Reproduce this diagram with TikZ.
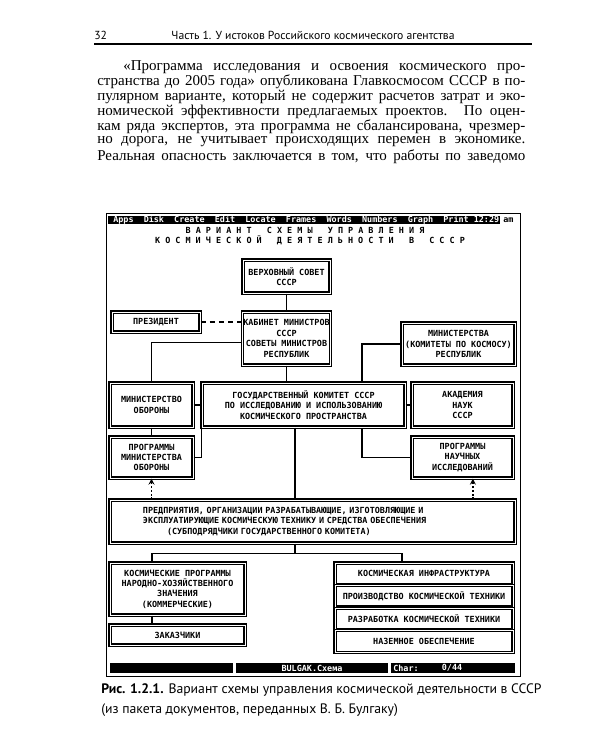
\documentclass[tikz,border=0pt]{standalone}
\usepackage{fontspec}
\setmainfont{Liberation Serif}
\newfontfamily\headfont{PT Sans}
\newfontfamily\dosfont{DejaVu Sans Mono}
\usetikzlibrary{positioning}
\begin{document}
\begin{tikzpicture}[
    x=0.25mm, y=-0.25mm,
    box/.style={draw, double, double distance=0.6pt, line width=0.85pt, fill=white,
        inner sep=0.5pt, align=center, font=\dosfont\bfseries\fontsize{6}{7.4}\selectfont},
    link/.style={line width=1pt},
    dashlink/.style={line width=0.9pt, dash pattern=on 3.5pt off 3pt},
    feed/.style={line width=0.9pt, dash pattern=on 1.5pt off 1.2pt, -stealth},
    dos/.style={inner sep=0pt, font=\dosfont\bfseries\fontsize{6}{7.4}\selectfont},
    bodyline/.style={anchor=west, inner sep=0pt, font=\fontsize{10.7}{12}\selectfont},
    sans/.style={inner sep=0pt, font=\headfont\fontsize{8.3}{9.6}\selectfont},
    caption/.style={anchor=west, inner sep=0pt, font=\headfont\fontsize{9.75}{11}\selectfont}
]
    \useasboundingbox (0,0) rectangle (600,750);

    \node[sans, anchor=west] (pagenum) at (94,35) {32};
    \node[sans] (runhead) at (313,35) {Часть 1. У истоков Российского космического агентства};
    \draw[line width=1pt] (94,44) -- (532,44);

    \node[bodyline] (body1) at (123,67) {\makebox[100.5mm][s]{«Программа исследования и освоения космического про-}};
    \node[bodyline] (body2) at (97,82) {\makebox[107mm][s]{странства до 2005 года» опубликована Главкосмосом СССР в по-}};
    \node[bodyline] (body3) at (97,97) {\makebox[107mm][s]{пулярном варианте, который не содержит расчетов затрат и эко-}};
    \node[bodyline] (body4) at (97,112) {\makebox[107mm][s]{номической эффективности предлагаемых проектов. По оцен-}};
    \node[bodyline] (body5) at (97,127) {\makebox[107mm][s]{кам ряда экспертов, эта программа не сбалансирована, чрезмер-}};
    \node[bodyline] (body6) at (97,142) {\makebox[107mm][s]{но дорога, не учитывает происходящих перемен в экономике.}};
    \node[bodyline] (body7) at (97,157) {\makebox[107mm][s]{Реальная опасность заключается в том, что работы по заведомо}};

    \draw[line width=0.6pt] (106,213) rectangle (520,676);
    \fill (108,216) rectangle (500,224);
    \node[dos, anchor=west, text=white] (menu) at (113,220) {Apps~~Disk~~Create~~Edit~~Locate~~Frames~~Words~~Numbers~~Graph~~Print~12:29};
    \node[dos, anchor=west] (clock) at (503,220) {am};
    \node[dos] (title1) at (305,230) {В~А~Р~И~А~Н~Т~~~С~Х~Е~М~Ы~~~У~П~Р~А~В~Л~Е~Н~И~Я};
    \node[dos] (title2) at (310,240) {К~О~С~М~И~Ч~Е~С~К~О~Й~~~Д~Е~Я~Т~Е~Л~Ь~Н~О~С~Т~И~~~В~~~С~С~С~Р};

    \node[box, minimum width=21.75mm, minimum height=8.25mm] (soviet) at (286.5,276.5) {ВЕРХОВНЫЙ СОВЕТ\\СССР};
    \node[box, minimum width=21.75mm, minimum height=13.25mm] (cabinet) at (286.5,338.5) {КАБИНЕТ МИНИСТРОВ\\СССР\\СОВЕТЫ МИНИСТРОВ\\РЕСПУБЛИК};
    \node[box, minimum width=22mm, minimum height=5mm] (president) at (156,322) {ПРЕЗИДЕНТ};
    \node[box, minimum width=28.25mm, minimum height=10.5mm] (ministries) at (458.5,344) {МИНИСТЕРСТВА\\(КОМИТЕТЫ ПО КОСМОСУ)\\РЕСПУБЛИК};
    \node[box, minimum width=20.75mm, minimum height=11mm] (defence) at (151.5,405) {МИНИСТЕРСТВО\\ОБОРОНЫ};
    \node[box, minimum width=50.75mm, minimum height=11mm] (goskom) at (303.5,405) {ГОСУДАРСТВЕННЫЙ КОМИТЕТ СССР\\ПО ИССЛЕДОВАНИЮ И ИСПОЛЬЗОВАНИЮ\\КОСМИЧЕСКОГО ПРОСТРАНСТВА};
    \node[box, minimum width=25.25mm, minimum height=11mm] (academy) at (462.5,405) {АКАДЕМИЯ\\НАУК\\СССР};
    \node[box, minimum width=20.75mm, minimum height=10.25mm] (defprog) at (151.5,457.5) {ПРОГРАММЫ\\МИНИСТЕРСТВА\\ОБОРОНЫ};
    \node[box, minimum width=25.25mm, minimum height=10.25mm] (sciprog) at (462.5,457.5) {ПРОГРАММЫ\\НАУЧНЫХ\\ИССЛЕДОВАНИЙ};
    \node[box, minimum height=10.75mm, text width=84.75mm, inner xsep=8.25mm, align=left] (firms) at (312.5,521.5) {ПРЕДПРИЯТИЯ, ОРГАНИЗАЦИИ РАЗРАБАТЫВАЮЩИЕ, ИЗГОТОВЛЯЮЩИЕ И\\ЭКСПЛУАТИРУЮЩИЕ КОСМИЧЕСКУЮ ТЕХНИКУ И СРЕДСТВА ОБЕСПЕЧЕНИЯ\\\hspace*{6mm}(СУБПОДРЯДЧИКИ ГОСУДАРСТВЕННОГО КОМИТЕТА)};
    \node[box, minimum width=33.75mm, minimum height=13mm] (commprog) at (177.5,589) {КОСМИЧЕСКИЕ ПРОГРАММЫ\\НАРОДНО-ХОЗЯЙСТВЕННОГО\\ЗНАЧЕНИЯ\\(КОММЕРЧЕСКИЕ)};
    \node[box, minimum width=33.75mm, minimum height=5mm] (customers) at (177.5,635) {ЗАКАЗЧИКИ};
    \node[box, minimum width=44.5mm, minimum height=5.35mm] (infra) at (424,573.7) {КОСМИЧЕСКАЯ ИНФРАСТРУКТУРА};
    \node[box, minimum width=44.5mm, minimum height=5.35mm, below=0pt of infra] (production) {ПРОИЗВОДСТВО КОСМИЧЕСКОЙ ТЕХНИКИ};
    \node[box, minimum width=44.5mm, minimum height=5.35mm, below=0pt of production] (design) {РАЗРАБОТКА КОСМИЧЕСКОЙ ТЕХНИКИ};
    \node[box, minimum width=44.5mm, minimum height=5.35mm, below=0pt of design] (ground) {НАЗЕМНОЕ ОБЕСПЕЧЕНИЕ};

    \draw[link] (soviet) -- (cabinet);
    \draw[dashlink] (president.east) -- (president.east -| cabinet.west);
    \draw[link] ([yshift=-1mm]cabinet.west) -| (defence.north);
    \draw[link] (cabinet.south) -- (cabinet.south |- goskom.north);
    \draw[link] (ministries.west) -| ([xshift=14.6mm]goskom.north);
    \draw[link] (defence) -- (goskom);
    \draw[link] (goskom) -- (academy);
    \draw[link] (defence) -- (defprog);
    \draw[link] (defprog.east) -| (goskom.south west);
    \draw[link] (sciprog.west) -| ([xshift=14.6mm]goskom.south);
    \draw[link] ([xshift=-2.1mm]goskom.south) -- ([xshift=-2.1mm]goskom.south |- firms.north);
    \draw[feed] (defprog.south |- firms.north) -- (defprog.south);
    \draw[feed] ([xshift=2.6mm]sciprog.south |- firms.north) -- ([xshift=2.6mm]sciprog.south);
    \draw[link] ([xshift=-4.4mm]firms.south) -- ++(0,10) coordinate (split);
    \draw[link] (split) -| ([xshift=-6.4mm]commprog.north);
    \draw[link] (split) -| ([xshift=-5.5mm]infra.north);
    \draw[link] ([xshift=-6.4mm]commprog.south) -- ([xshift=-6.4mm]customers.north);

    \fill (110,663) rectangle (233,673);
    \fill (236,663) rectangle (388,673);
    \fill (391,663) rectangle (515,673);
    \node[dos, text=white] (filename) at (312,668) {BULGAK.Схема};
    \node[dos, text=white, anchor=west] (charlabel) at (393,668) {Char:};
    \node[dos, text=white] (charcount) at (452,668) {0/44};

    \node[caption] (caption1) at (101,690) {\textbf{Рис. 1.2.1.} Вариант схемы управления космической деятельности в СССР};
    \node[caption] (caption2) at (101,710) {(из пакета документов, переданных В. Б. Булгаку)};
\end{tikzpicture}
\end{document}
